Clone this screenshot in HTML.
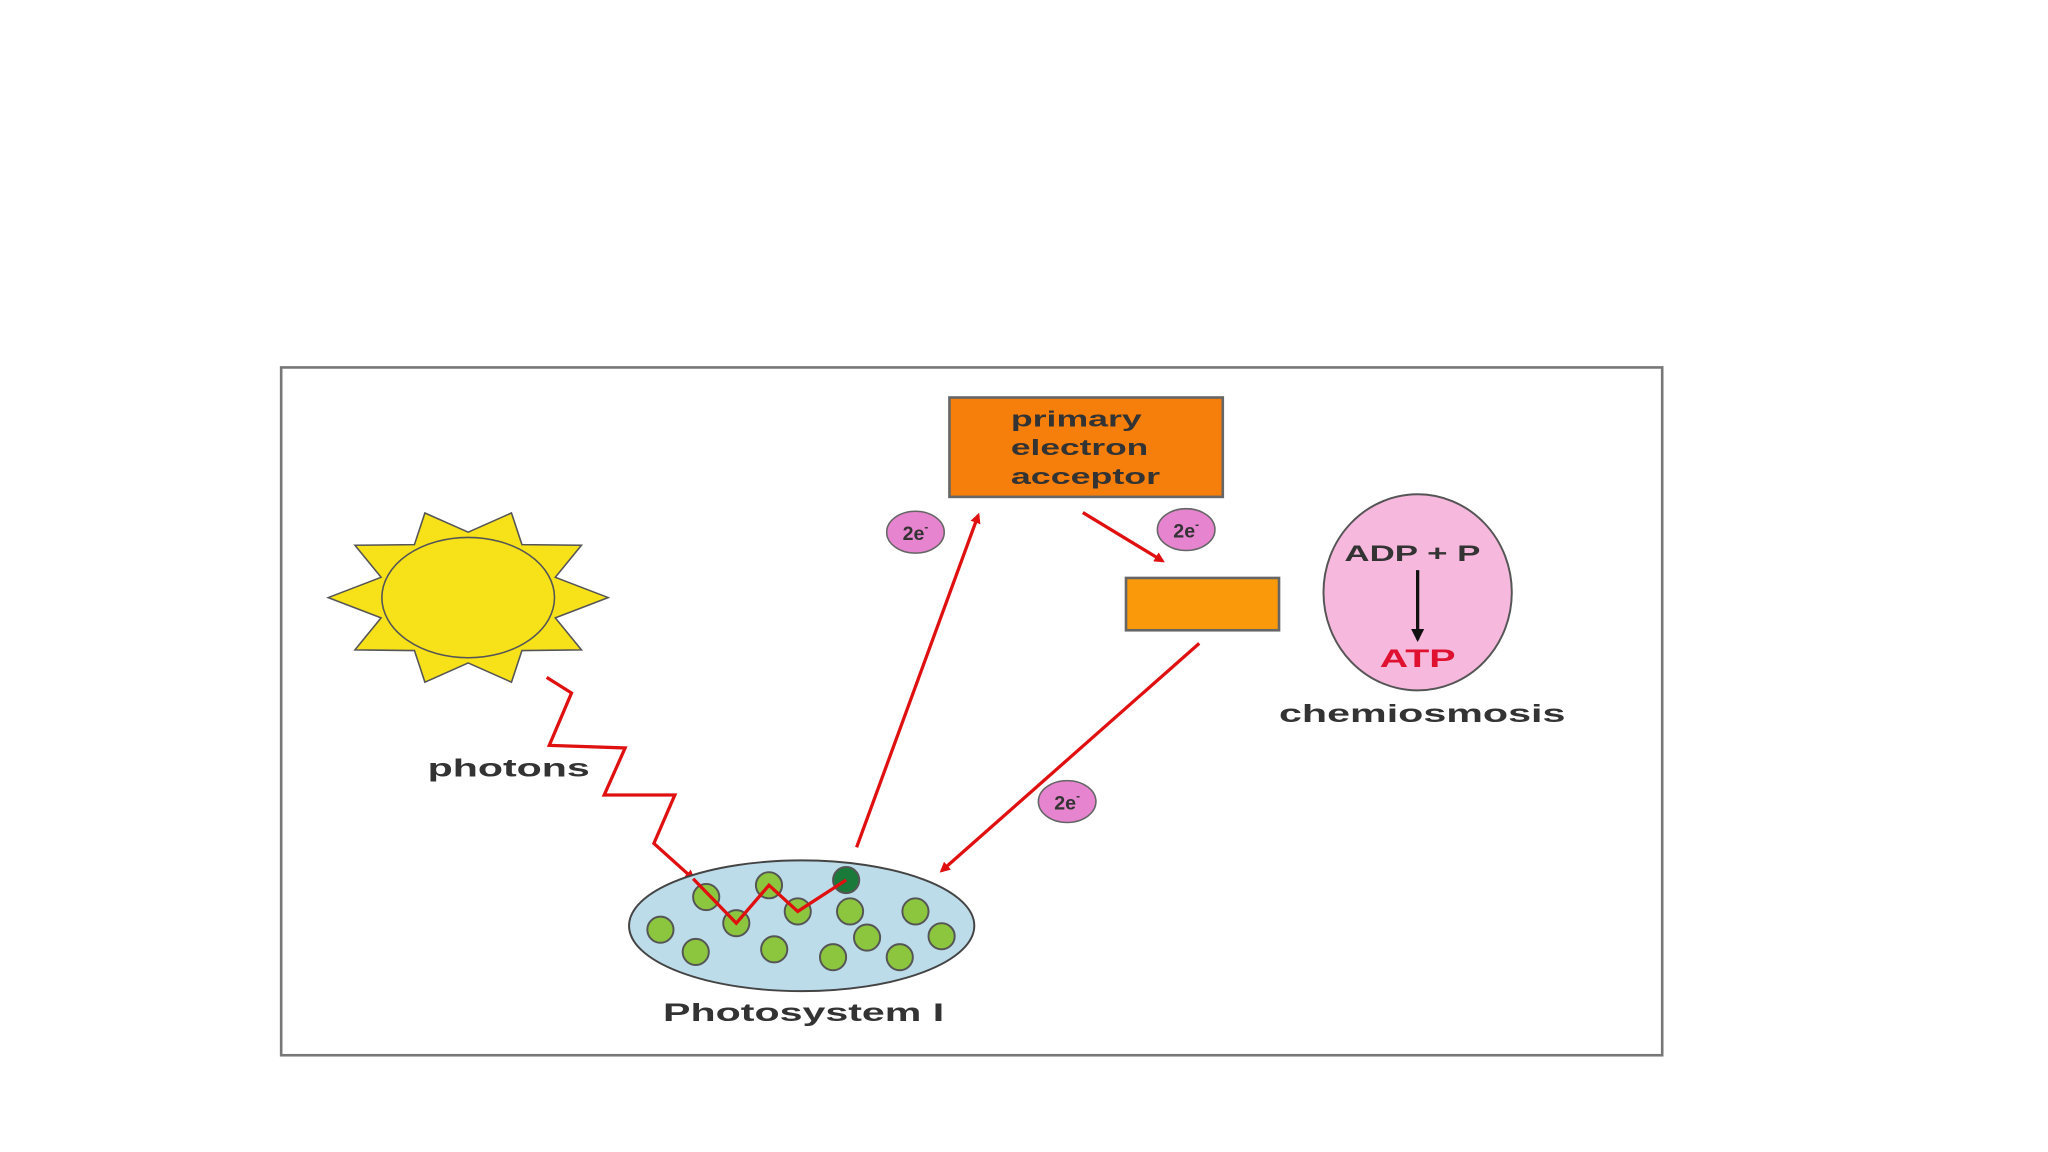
<!DOCTYPE html>
<html><head><style>html,body{margin:0;padding:0;background:#fff;width:2048px;height:1152px;overflow:hidden}</style></head>
<body>
<svg width="2048" height="1152" viewBox="0 0 1566 881" preserveAspectRatio="none" xmlns="http://www.w3.org/2000/svg" font-family="Liberation Sans, sans-serif">
<defs>
<marker id="ar" markerWidth="8" markerHeight="8" refX="6" refY="4" orient="auto" markerUnits="userSpaceOnUse"><path d="M0,0 L8,4 L0,8 Z" fill="#e01010"/></marker>
<marker id="ab" markerWidth="10" markerHeight="10" refX="8" refY="5" orient="auto" markerUnits="userSpaceOnUse"><path d="M0,0 L10,5 L0,10 Z" fill="#111"/></marker>
</defs>
<rect x="215" y="281" width="1056" height="526" fill="#fff" stroke="#777" stroke-width="2"/>
<g fill="#f7e21a" stroke="#555" stroke-width="1.2">
<polygon points="465,457 424.6,441.5 444.6,417 399.1,416.5 391.1,392.3 358,407 324.9,392.3 316.9,416.5 271.4,417 291.4,441.5 251,457 291.4,472.5 271.4,497 316.9,497.5 324.9,521.7 358,507 391.1,521.7 399.1,497.5 444.6,497 424.6,472.5"/>
<ellipse cx="358" cy="457" rx="66" ry="46"/>
</g>
<polyline points="418,518 437,530 420,570 478,572 462,608 516,608 500,645 530,672" fill="none" stroke="#e01010" stroke-width="2.5" marker-end="url(#ar)"/>
<ellipse cx="613" cy="708" rx="132" ry="50" fill="#bcdcea" stroke="#444" stroke-width="1.5"/>
<g fill="#8cc63f" stroke="#555" stroke-width="1.5">
<circle cx="540" cy="686" r="10"/><circle cx="588" cy="677" r="10"/><circle cx="563" cy="706" r="10"/><circle cx="610" cy="697" r="10"/><circle cx="650" cy="697" r="10"/><circle cx="700" cy="697" r="10"/><circle cx="505" cy="711" r="10"/><circle cx="663" cy="717" r="10"/><circle cx="720" cy="716" r="10"/><circle cx="532" cy="728" r="10"/><circle cx="592" cy="726" r="10"/><circle cx="637" cy="732" r="10"/><circle cx="688" cy="732" r="10"/>
<circle cx="647" cy="673" r="10" fill="#1a7a3a"/>
</g>
<polyline points="530,672 563,706 588,677 610,697 647,673" fill="none" stroke="#e01010" stroke-width="2.5"/>
<line x1="655" y1="648" x2="748" y2="394" stroke="#e01010" stroke-width="2.5" marker-end="url(#ar)"/>
<line x1="828" y1="392" x2="889" y2="429" stroke="#e01010" stroke-width="2.5" marker-end="url(#ar)"/>
<line x1="917" y1="492" x2="720" y2="666" stroke="#e01010" stroke-width="2.5" marker-end="url(#ar)"/>
<rect x="726" y="304" width="209" height="76" fill="#f57f0a" stroke="#666" stroke-width="2"/>
<g font-size="17" font-weight="bold" fill="#333" lengthAdjust="spacingAndGlyphs">
<text x="773" y="326" textLength="100" lengthAdjust="spacingAndGlyphs">primary</text>
<text x="773" y="348" textLength="105" lengthAdjust="spacingAndGlyphs">electron</text>
<text x="773" y="370" textLength="114" lengthAdjust="spacingAndGlyphs">acceptor</text></g>
<rect x="861" y="442" width="117" height="40" fill="#fa9a0a" stroke="#666" stroke-width="2"/>
<g fill="#e784cf" stroke="#666" stroke-width="1.2">
<ellipse cx="700" cy="407" rx="22" ry="16"/><ellipse cx="907" cy="405" rx="22" ry="16"/><ellipse cx="816" cy="613" rx="22" ry="16"/>
</g>
<g font-size="15" font-weight="bold" fill="#333" text-anchor="middle">
<text x="700" y="413">2e<tspan font-size="9" dy="-7">-</tspan></text>
<text x="907" y="411">2e<tspan font-size="9" dy="-7">-</tspan></text>
<text x="816" y="619">2e<tspan font-size="9" dy="-7">-</tspan></text>
</g>
<ellipse cx="1084" cy="453" rx="72" ry="75" fill="#f6b8dc" stroke="#555" stroke-width="1.5"/>
<text x="1028" y="429" font-size="17" font-weight="bold" fill="#333" textLength="104" lengthAdjust="spacingAndGlyphs">ADP + P</text>
<line x1="1084" y1="436" x2="1084" y2="489" stroke="#111" stroke-width="2.5" marker-end="url(#ab)"/>
<text x="1055" y="510" font-size="19" font-weight="bold" fill="#e01030" textLength="58" lengthAdjust="spacingAndGlyphs">ATP</text>
<g font-size="19" font-weight="bold" fill="#333">
<text x="978" y="552" textLength="219" lengthAdjust="spacingAndGlyphs">chemiosmosis</text>
<text x="327" y="594" textLength="124" lengthAdjust="spacingAndGlyphs">photons</text>
<text x="507" y="781" textLength="215" lengthAdjust="spacingAndGlyphs">Photosystem I</text>
</g>
</svg>
</body></html>
